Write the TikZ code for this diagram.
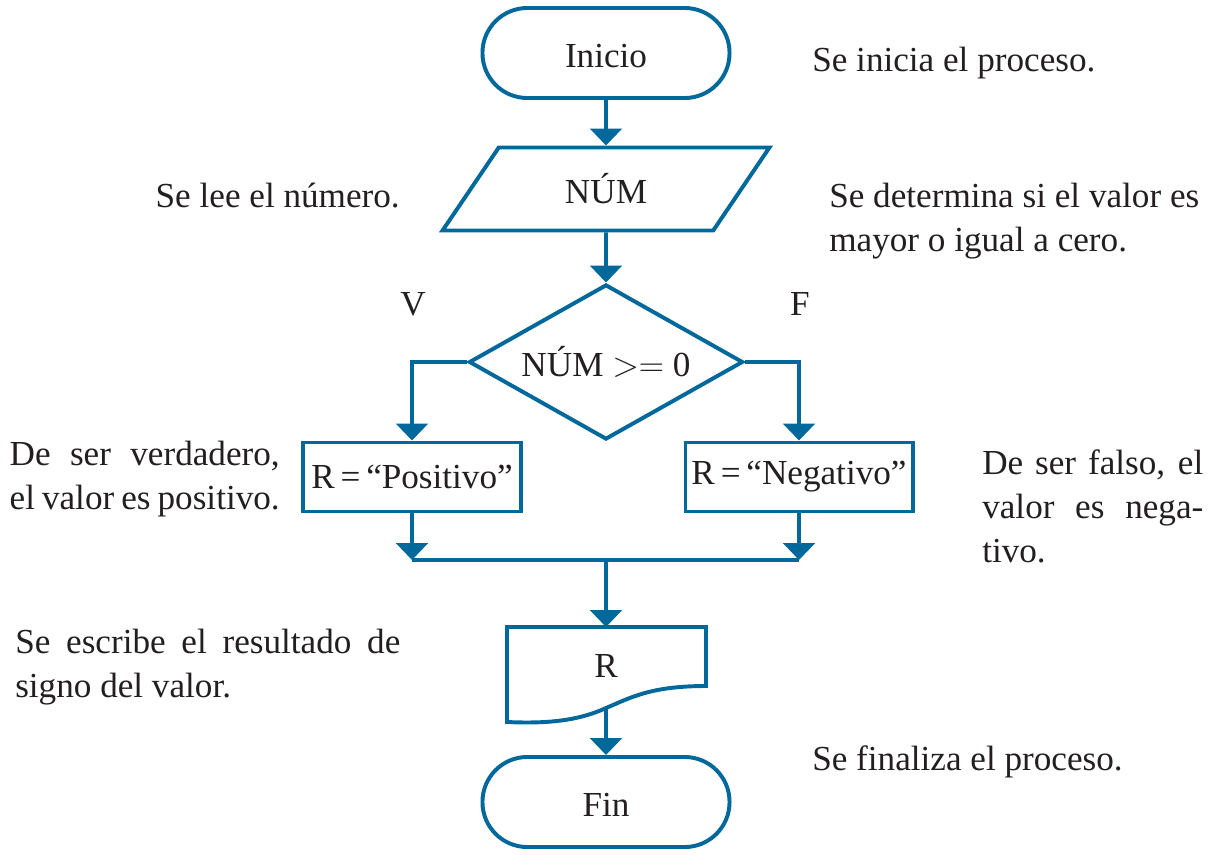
\documentclass[tikz,border=0pt]{standalone}
\usepackage{fontspec}
\setmainfont{Liberation Serif}
\usetikzlibrary{shapes.geometric, arrows.meta}
\definecolor{flowblue}{HTML}{00689A}
\definecolor{inktext}{HTML}{231F20}

\begin{document}
\begin{tikzpicture}[x=0.025cm, y=-0.025cm,
    font=\fontsize{25}{31.3}\selectfont, text=inktext,
    terminal/.style={draw=flowblue, line width=2.8pt, rectangle, rounded corners=1.12cm,
        minimum width=6.175cm, minimum height=2.25cm, text height=0.72cm, text depth=0pt},
    inputbox/.style={draw=flowblue, line width=2.8pt, trapezium, trapezium left angle=59,
        trapezium right angle=121, trapezium stretches=true, minimum width=8.25cm, minimum height=2.075cm},
    decision/.style={draw=flowblue, line width=2.8pt, diamond, aspect=1.77, inner sep=0pt,
        minimum width=6.85cm, minimum height=3.875cm},
    process/.style={draw=flowblue, line width=2.8pt, rectangle, minimum height=1.725cm},
    flow/.style={draw=flowblue, line width=2.8pt, -{Triangle[width=0.78cm,length=0.42cm]}},
    note/.style={inner sep=0pt, anchor=base west},
    notebox/.style={inner sep=0pt, anchor=north west, align=justify}]
    \useasboundingbox (0,0) rectangle (1217,855);

    % flowchart shapes
    \node[terminal] (ini) at (606,53) {Inicio};
    \node[inputbox] (num) at (606,189) {NÚM};
    \node[decision] (dec) at (606,362) {NÚM ${>}{=}$ 0};
    \node[process, minimum width=5.45cm] (pos) at (412,477) {R\,=\,“Positivo”};
    \node[process, minimum width=5.675cm] (neg) at (799,477) {R\,=\,“Negativo”};
    \node[inner sep=0pt] (out) at (606,666) {R};
    \coordinate (out-top) at (606,627);
    \coordinate (out-wave) at (606,708);
    \draw[flowblue, line width=2.8pt] (507,627) -- (706,627) -- (706,686)
        .. controls (650,686) and (630,698) .. (out-wave)
        .. controls (580,720) and (550,724) .. (507,722) -- cycle;
    \node[terminal] (fin) at (606,802) {Fin};

    % branch labels
    \node[anchor=base] (v-label) at (413,315) {V};
    \node[anchor=base] (f-label) at (800,315) {F};

    % connectors
    \coordinate (merge) at (606,560);
    \draw[flow] (ini) -- (num);
    \draw[flow] (num) -- (dec);
    \draw[flow] (dec.west) -| (pos.north);
    \draw[flow] (dec.east) -| (neg.north);
    \draw[flow] (pos.south) -- (pos.south |- merge);
    \draw[flow] (neg.south) -- (neg.south |- merge);
    \draw[flowblue, line width=2.8pt] (pos.south |- merge) -- (neg.south |- merge);
    \draw[flow] (merge) -- (out-top);
    \draw[flow] (out-wave) -- (fin);

    % side notes
    \node[note] (start-note) at (812,71) {Se inicia el proceso.};
    \node[note, anchor=base east] (read-note) at (400,207) {Se lee el número.};
    \node[notebox, align=left] (cond-note) at (829,183) {Se determina si el valor es\\mayor o igual a cero.};
    \node[notebox, anchor=north east, text width=6.75cm] (true-note) at (280,441)
        {De ser verdadero,\linebreak el valor es positivo.};
    \node[notebox, text width=5.525cm] (false-note) at (982,449)
        {De ser falso, el\linebreak valor es nega-\linebreak tivo.};
    \node[notebox, text width=9.625cm] (out-note) at (15,629)
        {Se escribe el resultado de\linebreak signo del valor.};
    \node[note] (end-note) at (812,770) {Se finaliza el proceso.};
\end{tikzpicture}
\end{document}
